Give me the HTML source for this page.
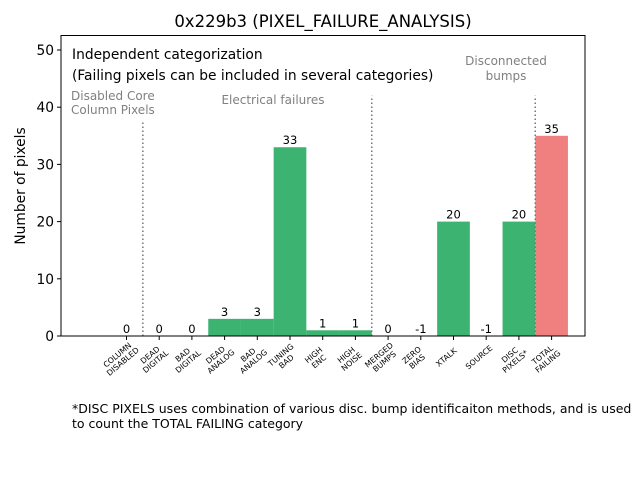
<!DOCTYPE html>
<html><head><meta charset="utf-8"><style>
body{margin:0;background:#fff;}
svg{font-family:"DejaVu Sans","Liberation Sans",sans-serif;}
</style></head><body>
<svg id="chart" width="640" height="480" viewBox="0 0 640 480" xmlns="http://www.w3.org/2000/svg">
<rect width="640" height="480" fill="#fff"/>
<defs><clipPath id="plotclip"><rect x="61" y="35" width="524" height="301"/></clipPath></defs>
<text x="323" y="27" font-size="16.5" text-anchor="middle">0x229b3 (PIXEL_FAILURE_ANALYSIS)</text>
<g id="bars" clip-path="url(#plotclip)"></g>
<g id="labels"></g>
<g id="annot">
<text x="72" y="59" font-size="13.8">Independent categorization</text>
<text x="72" y="80" font-size="13.8">(Failing pixels can be included in several categories)</text>
<text x="71" y="100" font-size="12" fill="#808080">Disabled Core</text>
<text x="71" y="114" font-size="12" fill="#808080">Column Pixels</text>
<text x="273" y="104" font-size="12" fill="#808080" text-anchor="middle">Electrical failures</text>
<text x="506" y="65" font-size="12" fill="#808080" text-anchor="middle">Disconnected</text>
<text x="506" y="80" font-size="12" fill="#808080" text-anchor="middle">bumps</text>
</g>
<rect x="61" y="35.5" width="524" height="300.5" fill="none" stroke="#000" stroke-width="1"/>
<g id="yaxis"></g>
<g id="xaxis"></g>
<text transform="translate(25,186) rotate(-90)" font-size="13.8" text-anchor="middle">Number of pixels</text>
<text x="72" y="413" font-size="12.5">*DISC PIXELS uses combination of various disc. bump identificaiton methods, and is used</text>
<text x="72" y="428" font-size="12.5">to count the TOTAL FAILING category</text>
</svg>
<script>
const categories=[["COLUMN","DISABLED"],["DEAD","DIGITAL"],["BAD","DIGITAL"],["DEAD","ANALOG"],["BAD","ANALOG"],["TUNING","BAD"],["HIGH","ENC"],["HIGH","NOISE"],["MERGED","BUMPS"],["ZERO","BIAS"],["XTALK"],["SOURCE"],["DISC","PIXELS*"],["TOTAL","FAILING"]];
const values=[0,0,0,3,3,33,1,1,0,-1,20,-1,20,35];
const yTicks=[0,10,20,30,40,50];
const separators=[[0.5,37.5],[7.5,42],[12.5,42]];
const NS="http://www.w3.org/2000/svg";
const x=i=>126.5+32.7*i;
const y=v=>336-v*5.72;
const bw=32.7;
function mk(tag,attrs,parent){const e=document.createElementNS(NS,tag);for(const k in attrs)e.setAttribute(k,attrs[k]);parent.appendChild(e);return e;}
const bars=document.getElementById('bars'),lab=document.getElementById('labels'),xa=document.getElementById('xaxis'),ya=document.getElementById('yaxis');
values.forEach((v,i)=>{
  const last=i===values.length-1;
  const r=mk('rect',{x:x(i)-bw/2,y:Math.min(y(v),y(0)),width:bw,height:Math.abs(y(v)-y(0)),fill:last?'#f08080':'#3cb371'},bars);
  
  
  const t=mk('text',{x:x(i),y:y(Math.max(v,0))-3,'font-size':11.5,'text-anchor':'middle'},lab);
  t.textContent=v;
  
  
  const tk=mk('line',{x1:x(i),x2:x(i),y1:336,y2:340,stroke:'#000'},xa);
  
  
  const g=mk('text',{'font-size':7.8,'text-anchor':'middle'},xa);
  
  
  const lines=categories[i];
  lines.forEach((s,j)=>{
    const ts=mk('tspan',{x:0,dy:j===0?(lines.length===1?7:4):8.5},g);
    ts.textContent=s;
  });
  g.setAttribute('transform',`translate(${x(i)-10},${354}) rotate(-40)`);
});
separators.forEach(s=>{
  const l=mk('line',{x1:x(s[0]),x2:x(s[0]),y1:336,y2:y(s[1]),stroke:'#777','stroke-width':1.5,'stroke-dasharray':'1.5,2.5'},lab);
  
  
});
yTicks.forEach(v=>{
  const l=mk('line',{x1:57,x2:61,y1:y(v),y2:y(v),stroke:'#000'},ya);
  
  
  const t=mk('text',{x:54,y:y(v)+5,'font-size':13.8,'text-anchor':'end'},ya);
  t.textContent=v;
  
  
});
</script>
</body></html>
